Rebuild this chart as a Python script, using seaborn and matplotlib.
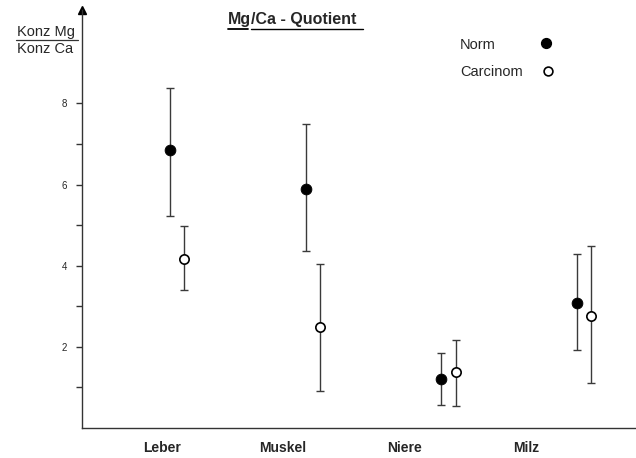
import numpy as np
import pandas as pd
import seaborn as sns
import matplotlib.pyplot as plt

# data
organs = ["Leber", "Muskel", "Niere", "Milz"]
norm_mean = [6.84, 5.90, 1.20, 3.08]
norm_low = [5.23, 4.35, 0.57, 1.93]
norm_high = [8.37, 7.48, 1.84, 4.30]
carc_mean = [4.17, 2.49, 1.37, 2.77]
carc_low = [3.39, 0.92, 0.54, 1.10]
carc_high = [4.97, 4.05, 2.17, 4.49]
groups = ["Norm", "Carcinom"]

sns.set_style("white")
plt.rcParams["font.family"] = ["Liberation Sans", "DejaVu Sans"]

idx = np.arange(len(organs))
df = pd.DataFrame({
    "x": np.concatenate([idx, idx + 0.105]),
    "y": norm_mean + carc_mean,
    "lo": norm_low + carc_low,
    "hi": norm_high + carc_high,
    "group": [groups[0]] * 4 + [groups[1]] * 4,
})

fig = plt.figure(figsize=(6.36, 4.58), dpi=100)
ax = fig.add_axes([0.129, 0.0655, 0.871, 0.9125])

# error bars first
for g in groups:
    d = df[df["group"] == g]
    ax.errorbar(d["x"], d["y"], yerr=[d["y"] - d["lo"], d["hi"] - d["y"]],
                fmt="none", ecolor="#3a3a3a", elinewidth=1.0, capsize=3,
                capthick=1.0, zorder=2)

# points
sns.scatterplot(data=df[df["group"] == "Norm"], x="x", y="y", ax=ax,
                color="black", edgecolor="black", s=60, marker="o",
                legend=False, zorder=3)
sns.scatterplot(data=df[df["group"] == "Carcinom"], x="x", y="y", ax=ax,
                color="white", edgecolor="black", linewidth=1.2, s=45,
                marker="o", legend=False, zorder=3)

ax.set_xlim(-0.648, 3.434)
ax.set_ylim(0, 10.3)

# axes styling
for s in ["top", "right"]:
    ax.spines[s].set_visible(False)
for s in ["left", "bottom"]:
    ax.spines[s].set_linewidth(1.0)
    ax.spines[s].set_color("#333333")
ax.plot(0, 1, marker="^", color="black", markersize=6,
        transform=ax.transAxes, clip_on=False)

ax.set_yticks([2, 4, 6, 8])
ax.set_yticks([1, 3, 5, 7], minor=True)
ax.tick_params(axis="y", which="both", direction="out", length=4,
               width=1, color="#333333", labelsize=7, pad=7, left=True)

ax.set_xticks(idx * 0.894 - 0.06)
ax.set_xticklabels(organs, fontsize=10, fontweight="bold")
ax.tick_params(axis="x", length=0, pad=9)
ax.set_xlabel("")
ax.set_ylabel("")

# y-label as fraction
fig.text(0.027, 0.930, "Konz Mg", fontsize=10.5, ha="left", va="center")
fig.text(0.027, 0.893, "Konz Ca", fontsize=10.5, ha="left", va="center")
fig.add_artist(plt.Line2D([0.025, 0.123], [0.912, 0.912], color="#333333",
                          lw=0.9, transform=fig.transFigure))

# title with underline
fig.text(0.358, 0.957, "Mg", fontsize=11.5, fontweight="bold",
         ha="left", va="center")
fig.text(0.395, 0.957, "/Ca - Quotient", fontsize=11.5, fontweight="bold",
         ha="left", va="center")
fig.add_artist(plt.Line2D([0.358, 0.390], [0.936, 0.936], color="black",
                          lw=1.3, transform=fig.transFigure))
fig.add_artist(plt.Line2D([0.395, 0.571], [0.936, 0.936], color="black",
                          lw=1.0, transform=fig.transFigure))

# legend: text on the left, marker on the right
fig.text(0.723, 0.902, groups[0], fontsize=10.5, ha="left", va="center")
fig.text(0.723, 0.843, groups[1], fontsize=10.5, ha="left", va="center")
ax.scatter([0.8375], [0.921], s=50, color="black", transform=ax.transAxes,
           clip_on=False, zorder=3)
ax.scatter([0.841], [0.854], s=40, facecolor="white", edgecolor="black",
           linewidth=1.2, transform=ax.transAxes, clip_on=False, zorder=3)

fig.savefig("out.png", dpi=100)
